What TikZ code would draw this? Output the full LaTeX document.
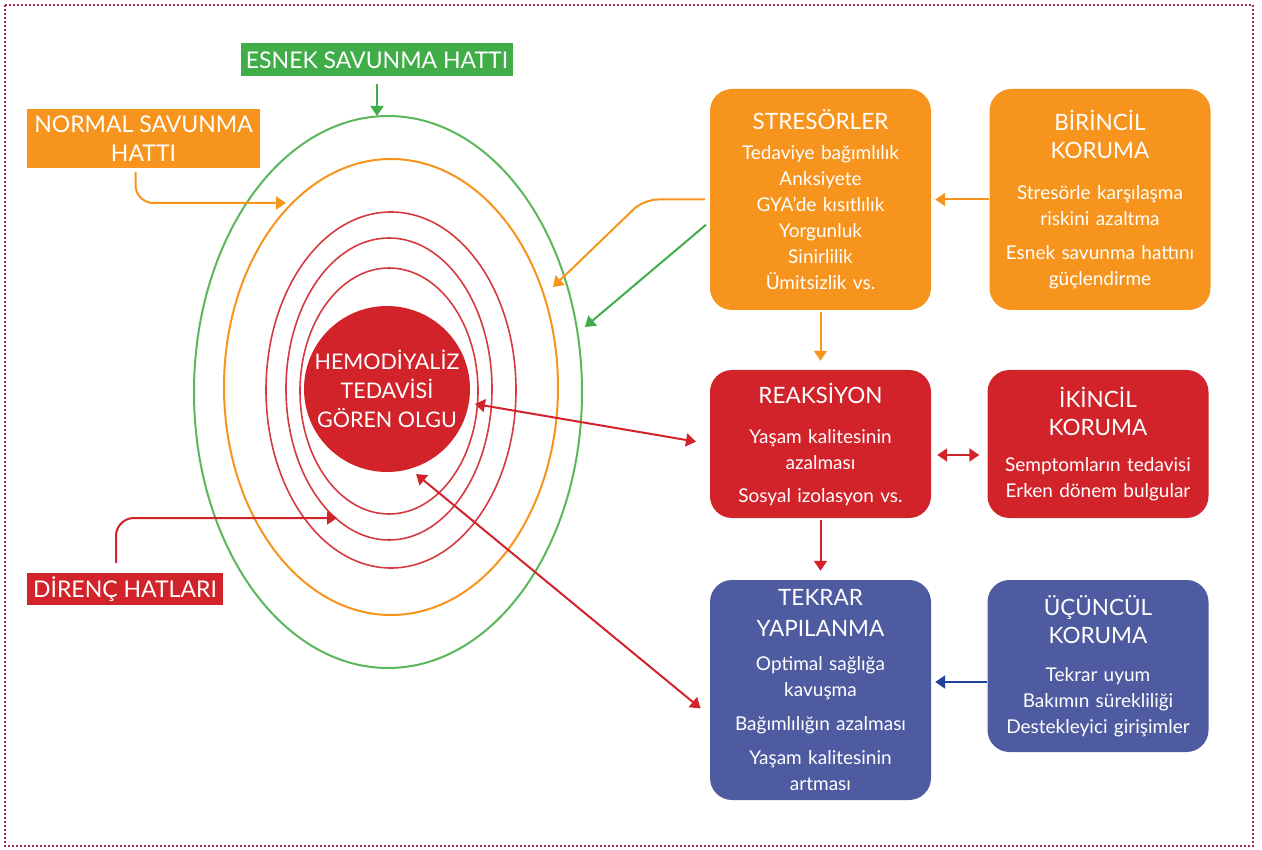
\documentclass[tikz,border=0pt]{standalone}
\usepackage{fontspec}
\setmainfont{Lato}
\usetikzlibrary{arrows.meta}

\definecolor{turuncu}{HTML}{F7941D}
\definecolor{kirmizi}{HTML}{D2232A}
\definecolor{yesil}{HTML}{40AD49}
\definecolor{acikyesil}{HTML}{5BB75B}
\definecolor{mavi}{HTML}{4E5BA0}
\definecolor{koyumavi}{HTML}{21409A}
\definecolor{cerceve}{HTML}{A52A5A}

\newcommand{\baslik}[1]{{\fontsize{22.5}{26}\selectfont #1}}

\begin{document}
\begin{tikzpicture}[x=1pt,y=-1pt,
  kutu/.style={rounded corners=22pt,minimum width=221pt,text width=219pt,align=center,
    text=white,inner sep=0pt,font=\fontsize{19}{26}\selectfont},
  etiket/.style={text=white,inner sep=0pt,align=center,font=\fontsize{23}{29}\selectfont},
  ok/.style={line width=2pt,-{Triangle[length=10pt,width=13pt]}},
  ciftok/.style={line width=2pt,{Triangle[length=10pt,width=13pt]}-{Triangle[length=10pt,width=13pt]}}]
\useasboundingbox (0,0) rectangle (1262,850);
\draw[cerceve,line width=2pt,dash pattern=on 1.6pt off 2.4pt] (5,5) rectangle (1253,846);

% savunma hatlari
\draw[acikyesil,line width=2pt] (388,392) ellipse [x radius=194,y radius=276];
\draw[turuncu,line width=2pt] (391,387) ellipse [x radius=167,y radius=228];
\draw[kirmizi!90!white,line width=1.6pt] (391,390) ellipse [x radius=125,y radius=178];
\draw[kirmizi!90!white,line width=1.6pt] (389,389) ellipse [x radius=103,y radius=151];
\draw[kirmizi!90!white,line width=1.6pt] (389,391) ellipse [x radius=89,y radius=123];
\node[circle,fill=kirmizi,minimum size=166pt,inner sep=0pt,text=white,align=center,
  font=\fontsize{21.5}{29}\selectfont] (olgu) at (387,389) {HEMODİYALİZ\\TEDAVİSİ\\GÖREN OLGU};

% etiketler
\node[etiket,fill=yesil,minimum width=272pt,minimum height=33pt] (esnek) at (377,60) {ESNEK SAVUNMA HATTI};
\node[etiket,fill=turuncu,minimum width=233pt,minimum height=59pt] (normal) at (143.5,138.5) {NORMAL SAVUNMA\\HATTI};
\node[etiket,fill=kirmizi,minimum width=196pt,minimum height=32pt] (direnc) at (125,589) {DİRENÇ HATLARI};

\coordinate (esnekUc) at (377,116);
\coordinate (normalUc) at (286,203);
\coordinate (direncUc) at (337,518);
\coordinate (stresO) at (553,287);
\coordinate (stresY) at (585,327);

% kutular
\node[kutu,fill=turuncu,minimum height=221pt] (stres) at (820.5,199.5)
  {\baslik{STRESÖRLER}\\[4pt]Tedaviye bağımlılık\\Anksiyete\\GYA’de kısıtlılık\\Yorgunluk\\Sinirlilik\\Ümitsizlik vs.};
\node[kutu,fill=turuncu,minimum height=221pt] (birincil) at (1100,199.5)
  {\baslik{BİRİNCİL}\\[2pt]\baslik{KORUMA}\\[15pt]Stresörle karşılaşma\\riskini azaltma\\[8pt]Esnek savunma hattını\\güçlendirme};
\node[kutu,fill=kirmizi,minimum height=148pt] (reak) at (820.5,444)
  {\baslik{REAKSİYON}\\[14pt]Yaşam kalitesinin\\azalması\\[7pt]Sosyal izolasyon vs.};
\node[kutu,fill=kirmizi,minimum height=148pt] (ikincil) at (1098,444)
  {\baslik{İKİNCİL}\\[2pt]\baslik{KORUMA}\\[10pt]Semptomların tedavisi\\Erken dönem bulgular};
\node[kutu,fill=mavi,minimum height=220pt] (tekrar) at (820.5,690)
  {\baslik{TEKRAR}\\[5pt]\baslik{YAPILANMA}\\[8pt]Optimal sağlığa\\kavuşma\\[8pt]Bağımlılığın azalması\\[8pt]Yaşam kalitesinin\\artması};
\node[kutu,fill=mavi,minimum height=172pt] (ucuncul) at (1098,666)
  {\baslik{ÜÇÜNCÜL}\\[2pt]\baslik{KORUMA}\\[12pt]Tekrar uyum\\Bakımın sürekliliği\\Destekleyici girişimler};

% oklar
\draw[ok,yesil] ([yshift=-7pt]esnek.south) -- (esnekUc);
\draw[ok,turuncu,rounded corners=18pt] ([xshift=-8pt,yshift=-4pt]normal.south) |- (normalUc);
\draw[ok,kirmizi,rounded corners=18pt] ([xshift=-9pt,yshift=10pt]direnc.north) |- (direncUc);
\draw[ok,turuncu,rounded corners=14pt,shorten <=5pt] (stres.west) -- ++(-66,0) -- (stresO);
\draw[ok,yesil,shorten <=5pt] ([yshift=-22pt]stres.west) -- (stresY);
\draw[ok,turuncu,shorten >=4pt] (birincil.west) -- (stres.east);
\draw[ok,turuncu,shorten <=2pt,shorten >=9pt] (stres.south) -- (reak.north);
\draw[ok,kirmizi,shorten <=2pt,shorten >=9pt] (reak.south) -- (tekrar.north);
\draw[ciftok,kirmizi,shorten <=6pt,shorten >=8pt] ([yshift=-11pt]reak.east) -- ([yshift=-11pt]reak.east -| ikincil.west);
\draw[ok,koyumavi,shorten >=4pt] ([yshift=-16pt]ucuncul.west) -- ([yshift=-16pt]ucuncul.west -| tekrar.east);
\draw[ciftok,kirmizi,shorten <=6pt,shorten >=14pt] (olgu) -- (reak.west);
\draw[ciftok,kirmizi,shorten <=8pt,shorten >=12pt] (olgu.-74) -- ([yshift=-26pt]tekrar.west);
\end{tikzpicture}
\end{document}
